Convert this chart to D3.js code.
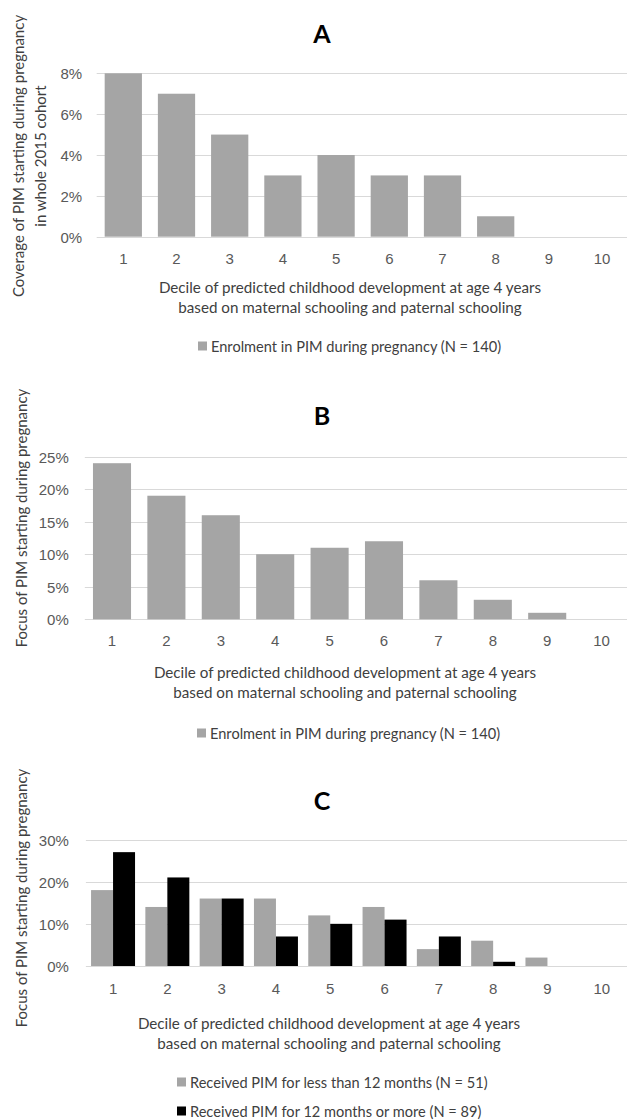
<!DOCTYPE html>
<html>
<head>
<meta charset="utf-8">
<script src="https://cdn.jsdelivr.net/npm/d3@7"></script>
<style>
  html, body { margin: 0; padding: 0; background: #fff; }
  svg { display: block; font-family: Lato, "Open Sans", sans-serif; }
</style>
</head>
<body>
<svg id="chart" width="627" height="1120"></svg>
<script>
// Deciles of predicted childhood development at age 4
const deciles = ["1", "2", "3", "4", "5", "6", "7", "8", "9", "10"];

// Panel A: coverage of PIM starting during pregnancy in the whole 2015 cohort (%)
const coverageA = [8, 7, 5, 3, 4, 3, 3, 1, 0, 0];
// Panel B: focus of PIM starting during pregnancy (%)
const focusB = [24, 19, 16, 10, 11, 12, 6, 3, 1, 0];
// Panel C: focus split by duration of PIM (%)
const focusLess12 = [18, 14, 16, 16, 12, 14, 4, 6, 2, 0];
const focus12Plus = [27, 21, 16, 7, 10, 11, 7, 1, 0, 0];

const ticksA = [0, 2, 4, 6, 8];
const ticksB = [0, 5, 10, 15, 20, 25];
const ticksC = [0, 10, 20, 30];

const xTitle = ["Decile of predicted childhood development at age 4 years",
                "based on maternal schooling and paternal schooling"];
const legendA = ["Enrolment in PIM during pregnancy (N = 140)"];
const legendC = ["Received PIM for less than 12 months (N = 51)",
                 "Received PIM for 12 months or more (N = 89)"];

const GRAY = "#a5a5a5", BLACK = "#000000", GRID = "#d9d9d9";
const TICK_COLOR = "#595959", TEXT_COLOR = "#404040";
const FS_TICK = 15, FS_XTITLE = 15.2, FS_YTITLE = 15, FS_LEGEND = 14.6;

const svg = d3.select("#chart");
const W = 627;

function panel(cfg) {
  const g = svg.append("g");
  const x = d3.scaleBand().domain(deciles).range(cfg.xRange).paddingInner(cfg.pad).paddingOuter(cfg.pad / 2);
  const y = d3.scaleLinear().domain([0, cfg.max]).range([cfg.bottom, cfg.top]);

  // panel letter
  g.append("text").attr("x", 322).attr("y", cfg.titleY)
    .attr("text-anchor", "middle").attr("dominant-baseline", "central")
    .attr("font-size", 25).attr("font-weight", 700).attr("fill", "#000")
    .text(cfg.title);

  // horizontal gridlines
  g.append("g").selectAll("line").data(cfg.ticks).join("line")
    .attr("x1", cfg.xRange[0]).attr("x2", W)
    .attr("y1", d => Math.round(y(d)) + 0.5).attr("y2", d => Math.round(y(d)) + 0.5)
    .attr("stroke", GRID).attr("stroke-width", 1);

  // y axis labels
  const ya = g.append("g").attr("transform", `translate(${cfg.xRange[0]},0)`)
    .call(d3.axisLeft(y).tickValues(cfg.ticks).tickSize(0).tickPadding(cfg.yPad).tickFormat(d => d + "%"));
  ya.select(".domain").remove();
  ya.selectAll("text").attr("font-family", null).attr("font-size", FS_TICK).attr("fill", TICK_COLOR)
    .attr("dy", null).attr("dominant-baseline", "central");

  // bars
  const n = cfg.series.length;
  const sub = d3.scaleBand().domain(d3.range(n)).range([0, x.bandwidth()]);
  cfg.series.forEach((s, i) => {
    g.append("g").selectAll("rect").data(s.values).join("rect")
      .attr("x", (d, j) => x(deciles[j]) + sub(i))
      .attr("width", sub.bandwidth())
      .attr("y", d => y(d))
      .attr("height", d => y(0) - y(d))
      .attr("fill", s.color);
  });

  // x axis labels
  const xa = g.append("g").attr("transform", `translate(0,${cfg.bottom})`)
    .call(d3.axisBottom(x).tickSize(0));
  xa.select(".domain").remove();
  xa.selectAll("text").attr("font-family", null).attr("font-size", FS_TICK).attr("fill", TICK_COLOR)
    .attr("dy", null).attr("y", cfg.xLabelY - cfg.bottom).attr("dominant-baseline", "central");

  // x axis title
  g.append("g").selectAll("text").data(xTitle).join("text")
    .attr("x", cfg.xTitleX).attr("y", (d, i) => cfg.xTitleY + i * 20)
    .attr("text-anchor", "middle").attr("dominant-baseline", "central")
    .attr("font-size", FS_XTITLE).attr("fill", TEXT_COLOR).text(d => d);

  // y axis title (rotated)
  const yt = g.append("g");
  cfg.yTitle.forEach((t, i) => {
    yt.append("text")
      .attr("transform", `translate(${cfg.yTitleX[i]},${cfg.yTitleY}) rotate(-90)`)
      .attr("text-anchor", "middle").attr("dominant-baseline", "central")
      .attr("font-size", FS_YTITLE).attr("fill", TEXT_COLOR).text(t);
  });

  // legend
  const lg = g.append("g");
  cfg.series.forEach((s, i) => {
    const ly = cfg.legendY + i * 29;
    lg.append("rect").attr("x", cfg.legendX).attr("y", ly - 4.5)
      .attr("width", 9).attr("height", 9).attr("fill", s.color);
    lg.append("text").attr("x", cfg.legendX + 13).attr("y", ly)
      .attr("dominant-baseline", "central").attr("font-size", FS_LEGEND).attr("fill", TEXT_COLOR)
      .text(s.label);
  });
}

panel({
  title: "A", titleY: 33,
  xRange: [96.7, 628.7], pad: 0.3, top: 73.3, bottom: 236.7, max: 8, ticks: ticksA, yPad: 14.5,
  series: [{ values: coverageA, color: GRAY, label: legendA[0] }],
  xLabelY: 259, xTitleX: 350, xTitleY: 287,
  yTitle: ["Coverage of PIM starting during pregnancy", "in whole 2015 cohort"],
  yTitleX: [18, 40], yTitleY: 156,
  legendX: 198, legendY: 346
});

panel({
  title: "B", titleY: 415,
  xRange: [84.8, 628.8], pad: 0.3, top: 456.7, bottom: 619.3, max: 25, ticks: ticksB, yPad: 16,
  series: [{ values: focusB, color: GRAY, label: legendA[0] }],
  xLabelY: 641, xTitleX: 345, xTitleY: 672,
  yTitle: ["Focus of PIM starting during pregnancy"],
  yTitleX: [21], yTitleY: 518,
  legendX: 197, legendY: 733
});

panel({
  title: "C", titleY: 800,
  xRange: [85.9, 628.9], pad: 0.19, top: 839.5, bottom: 966, max: 30, ticks: ticksC, yPad: 17,
  series: [
    { values: focusLess12, color: GRAY, label: legendC[0] },
    { values: focus12Plus, color: BLACK, label: legendC[1] }
  ],
  xLabelY: 988, xTitleX: 329, xTitleY: 1023,
  yTitle: ["Focus of PIM starting during pregnancy"],
  yTitleX: [21], yTitleY: 898,
  legendX: 177, legendY: 1082
});
</script>
</body>
</html>
